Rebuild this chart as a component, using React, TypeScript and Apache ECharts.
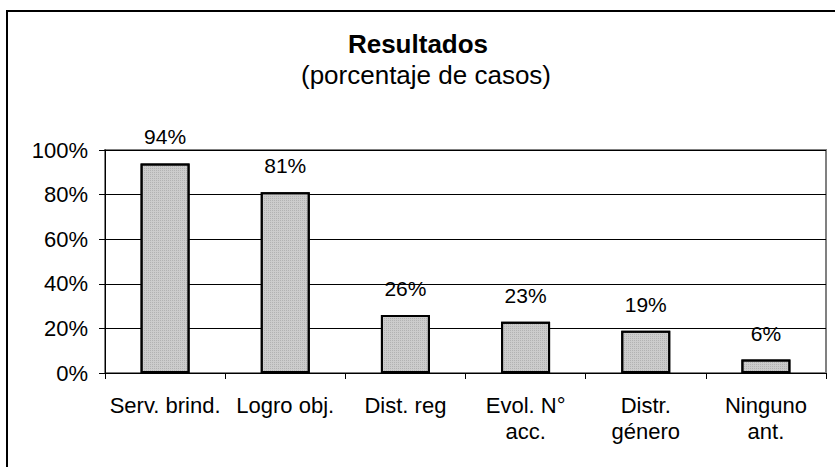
import React, { useEffect, useRef } from "react";
import * as echarts from "echarts";

const categories = ["Serv. brind.", "Logro obj.", "Dist. reg", "Evol. N°\nacc.", "Distr.\ngénero", "Ninguno\nant."];
const values = [94, 81, 26, 23, 19, 6];
const yTicks = [0, 20, 40, 60, 80, 100];

export default function App() {
  const ref = useRef<HTMLDivElement>(null);
  useEffect(() => {
    if (!ref.current) return;
    const chart = echarts.init(ref.current, null, { renderer: "svg" });
    const font = "Liberation Sans, Arial, sans-serif";
    chart.setOption({
      animation: false,
      backgroundColor: "#ffffff",
      title: [
        {
          text: "Resultados",
          left: 418,
          textAlign: "center",
          top: 31,
          padding: 0,
          textStyle: { fontFamily: font, fontWeight: "bold", fontSize: 26, color: "#000" },
        },
        {
          text: "(porcentaje de casos)",
          left: 426,
          textAlign: "center",
          top: 62,
          padding: 0,
          textStyle: { fontFamily: font, fontWeight: "normal", fontSize: 26, color: "#000" },
        },
      ],
      graphic: [
        {
          type: "rect",
          shape: { x: 7, y: 11, width: 900, height: 600 },
          style: { fill: "none", stroke: "#000", lineWidth: 2 },
          silent: true,
        },
        {
          type: "rect",
          shape: { x: 105, y: 150, width: 721, height: 223 },
          style: { fill: "none", stroke: "#808080", lineWidth: 2 },
          silent: true,
          z: 0,
        },
      ],
      grid: { left: 105, right: 9, top: 150, bottom: 94, containLabel: false },
      xAxis: {
        type: "category",
        data: categories,
        axisLine: { lineStyle: { color: "#000", width: 1 } },
        axisTick: { show: true, length: 6, lineStyle: { color: "#000" } },
        axisLabel: { fontFamily: font, fontSize: 22, color: "#000", margin: 19, lineHeight: 26, interval: 0 },
      },
      yAxis: {
        type: "value",
        min: 0,
        max: 100,
        interval: 20,
        axisLine: { show: true, lineStyle: { color: "#000", width: 1 } },
        axisTick: { show: true, length: 6, lineStyle: { color: "#000" } },
        splitLine: { show: true, lineStyle: { color: "#000", width: 1 } },
        axisLabel: {
          fontFamily: font,
          fontSize: 22,
          color: "#000",
          margin: 17,
          formatter: (v: number) => (yTicks.includes(v) ? v + "%" : ""),
        },
      },
      series: [
        {
          type: "bar",
          data: values,
          barWidth: 49,
          itemStyle: {
            color: "#cccccc",
            borderColor: "#000",
            borderWidth: 2,
            decal: {
              symbol: "rect",
              symbolSize: 1,
              dashArrayX: [1, 1],
              dashArrayY: [1, 1],
              color: "rgba(120,120,120,0.3)",
            },
          },
          label: {
            show: true,
            position: "top",
            distance: 16,
            formatter: "{c}%",
            fontFamily: font,
            fontSize: 21,
            color: "#000",
          },
        },
      ],
    });
    return () => chart.dispose();
  }, []);
  return (
    <div
      ref={ref}
      style={{ position: "fixed", left: 0, top: 0, width: 835, height: 467 }}
    />
  );
}
